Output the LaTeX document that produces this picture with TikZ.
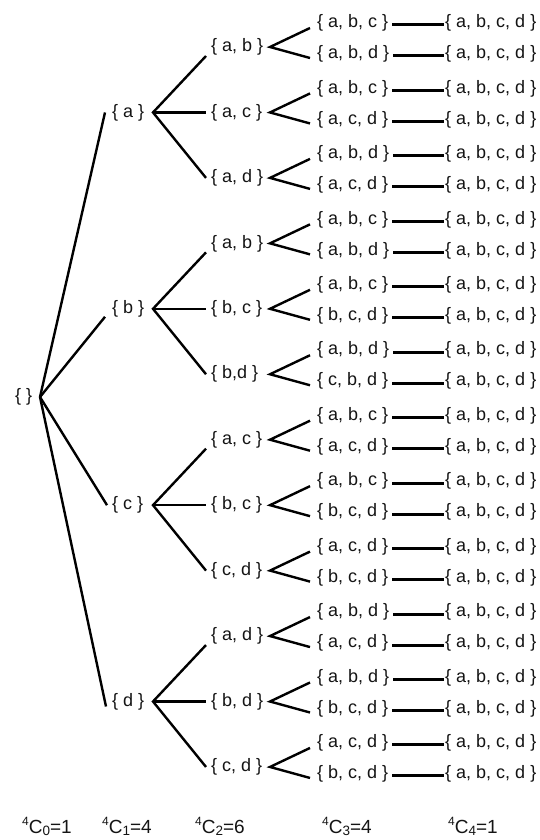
\documentclass[tikz,border=0pt]{standalone}
\usepackage{fontspec}
\setmainfont{Liberation Sans}
\newcommand\sset[1]{\{ #1 \}}
\newcommand\comb[2]{\raisebox{8pt}{\fontsize{12}{12}\selectfont 4}\fontsize{19}{20}\selectfont C\raisebox{-2.5pt}{\fontsize{13.5}{14}\selectfont #1}=#2}
\newcommand\grp[4]{%
  \pgfmathsetmacro\yt{23+65.45*#1}%
  \pgfmathsetmacro\yb{\yt+31}%
  \pgfmathsetmacro\ym{\yt+24}%
  \node[lab] (L2-#1) at (211,\ym) {\sset{#2}};
  \node[lab] (L3t-#1) at (317,\yt) {\sset{#3}};
  \node[lab] (L3b-#1) at (317,\yb) {\sset{#4}};
  \node[lab] (L4t-#1) at (445,\yt) {\sset{a, b, c, d}};
  \node[lab] (L4b-#1) at (445,\yb) {\sset{a, b, c, d}};
  \coordinate (V-#1) at (270,\ym);
  \draw[edge] ([shift={(-7,5)}]L3t-#1.west) -- (V-#1) -- ([shift={(-7,4)}]L3b-#1.west);
  \draw[bar] ([shift={(4,2)}]L3t-#1.east) -- ([shift={(-1,2)}]L4t-#1.west);
  \draw[bar] ([shift={(4,2)}]L3b-#1.east) -- ([shift={(-1,2)}]L4b-#1.west);
}
\newcommand\lone[3]{%
  \pgfmathtruncatemacro\ka{3*#1}%
  \pgfmathtruncatemacro\kb{3*#1+1}%
  \pgfmathtruncatemacro\kc{3*#1+2}%
  \pgfmathsetmacro\yo{23+65.45*\kb+24}%
  \node[lab] (L1-#1) at (112,\yo) {\sset{#2}};
  \coordinate (W-#1) at (153,\yo);
  \draw[edge] ([shift={(-5,9)}]L2-\ka.west) -- (W-#1) -- ([shift={(-5,0)}]L2-\kc.west);
  \draw[edge] (W-#1) -- ([shift={(-5,0)}]L2-\kb.west);
  \draw[edge] (R) -- ([shift={#3}]L1-#1.west);
}
\begin{document}
\begin{tikzpicture}[x=1pt,y=-1pt,
  lab/.style={inner sep=0pt, anchor=west, font=\fontsize{18}{20}\selectfont, text=black!92},
  edge/.style={line width=2.4pt, black},
  bar/.style={line width=3pt, black},
  clab/.style={inner sep=0pt, anchor=base west, text=black!92}]
\useasboundingbox (0,0) rectangle (539,840);
% root
\node[lab] (root) at (15,397) {\{\hspace{5pt}\}};
\coordinate (R) at (40,397);
% groups of level 2 / 3 / 4
\grp{0}{a, b}{a, b, c}{a, b, d}
\grp{1}{a, c}{a, b, c}{a, c, d}
\grp{2}{a, d}{a, b, d}{a, c, d}
\grp{3}{a, b}{a, b, c}{a, b, d}
\grp{4}{b, c}{a, b, c}{b, c, d}
\grp{5}{b,d}{a, b, d}{c, b, d}
\grp{6}{a, c}{a, b, c}{a, c, d}
\grp{7}{b, c}{a, b, c}{b, c, d}
\grp{8}{c, d}{a, c, d}{b, c, d}
\grp{9}{a, d}{a, b, d}{a, c, d}
\grp{10}{b, d}{a, b, d}{b, c, d}
\grp{11}{c, d}{a, c, d}{b, c, d}
% level 1
\lone{0}{a}{(-7,0)}
\lone{1}{b}{(-7,8)}
\lone{2}{c}{(-5,0)}
\lone{3}{d}{(-6,5)}
% counts
\node[clab] (c0) at (22,833) {\comb{0}{1}};
\node[clab] (c1) at (102,833) {\comb{1}{4}};
\node[clab] (c2) at (195,833) {\comb{2}{6}};
\node[clab] (c3) at (322,833) {\comb{3}{4}};
\node[clab] (c4) at (448,833) {\comb{4}{1}};
\end{tikzpicture}
\end{document}
